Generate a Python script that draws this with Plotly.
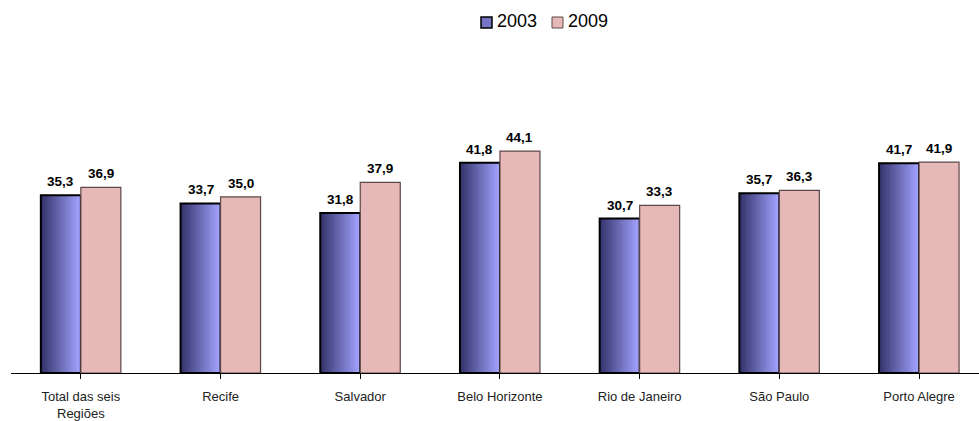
import plotly.graph_objects as go

categories = ["Total das seis<br>Regiões", "Recife", "Salvador", "Belo Horizonte",
              "Rio de Janeiro", "São Paulo", "Porto Alegre"]
series_names = ["2003", "2009"]
values_2003 = [35.3, 33.7, 31.8, 41.8, 30.7, 35.7, 41.7]
values_2009 = [36.9, 35.0, 37.9, 44.1, 33.3, 36.3, 41.9]

W = 0.2863  # bar width in category units
N = 28      # gradient slices
BLUE_DARK = (50, 50, 105)
BLUE_LIGHT = (162, 162, 255)
PINK = "#e6b8b7"
PINK_LINE = "#5c4848"

def lab(v):
    return f"{v:.1f}".replace(".", ",")

def mix(t):
    return "rgb({},{},{})".format(*[round(a + (b - a) * t) for a, b in zip(BLUE_DARK, BLUE_LIGHT)])

x = list(range(len(categories)))
fig = go.Figure()

# gradient slices for 2003
for k in range(N):
    fig.add_trace(go.Bar(x=x, y=values_2003, offset=-W + k * W / N, width=W / N * 1.05,
                         marker=dict(color=mix(k / (N - 1)), line=dict(width=0)),
                         showlegend=False, hoverinfo="skip"))

# outline 2003
fig.add_trace(go.Bar(x=x, y=values_2003, offset=-W, width=W, name=series_names[0],
                     marker=dict(color="rgba(0,0,0,0)", line=dict(color="black", width=2)),
                     showlegend=False, hoverinfo="skip"))

# 2009
fig.add_trace(go.Bar(x=x, y=values_2009, name=series_names[1], offset=0, width=W,
                     marker=dict(color=PINK, line=dict(color=PINK_LINE, width=1.2)),
                     showlegend=False, hoverinfo="skip"))

# value labels
lab_font = dict(family="Liberation Sans, Arial", size=13.5, color="black", weight="bold")
for xi, v in zip(x, values_2003):
    fig.add_annotation(x=xi - W / 2, y=v, text=lab(v), showarrow=False,
                       yanchor="bottom", yshift=4, font=lab_font)
for xi, v in zip(x, values_2009):
    fig.add_annotation(x=xi + W / 2, y=v, text=lab(v), showarrow=False,
                       yanchor="bottom", yshift=4, font=lab_font)

# manual legend (compact, as in the reference)
PL, PW, PT, PH = 11, 968, 60, 313
def px(v):
    return (v - PL) / PW
def py(v):
    return (PT + PH - v) / PH

legend_items = [(series_names[0], 481, None), (series_names[1], 552, PINK)]
for name, left, col in legend_items:
    if col is None:
        fig.add_shape(type="rect", xref="paper", yref="paper",
                      x0=px(left), x1=px(left + 11), y0=py(28), y1=py(17),
                      fillcolor=mix(0.6), line=dict(color="black", width=1.5))
    else:
        fig.add_shape(type="rect", xref="paper", yref="paper",
                      x0=px(left), x1=px(left + 11), y0=py(28), y1=py(17),
                      fillcolor=col, line=dict(color=PINK_LINE, width=1))
    fig.add_annotation(xref="paper", yref="paper", x=px(left + 14), y=py(21),
                       text=name, showarrow=False, xanchor="left", yanchor="middle",
                       font=dict(family="Liberation Sans, Arial", size=18, color="black"))

fig.update_layout(
    width=979, height=421,
    margin=dict(l=PL, r=0, t=PT, b=421 - PT - PH),
    paper_bgcolor="white", plot_bgcolor="white",
    barmode="overlay", showlegend=False,
    font=dict(family="Liberation Sans, Arial", color="black"),
    xaxis=dict(range=[-0.5, 6.429], tickmode="array", tickvals=x, ticktext=categories,
               showline=True, linecolor="black", linewidth=1,
               ticks="outside", tickson="boundaries", ticklen=5, tickcolor="black",
               ticklabelstandoff=6,
               tickfont=dict(size=13, color="#222"), showgrid=False, zeroline=False),
    yaxis=dict(range=[0, 62.2], visible=False, showgrid=False, zeroline=False),
)

fig.write_html("out.html")
